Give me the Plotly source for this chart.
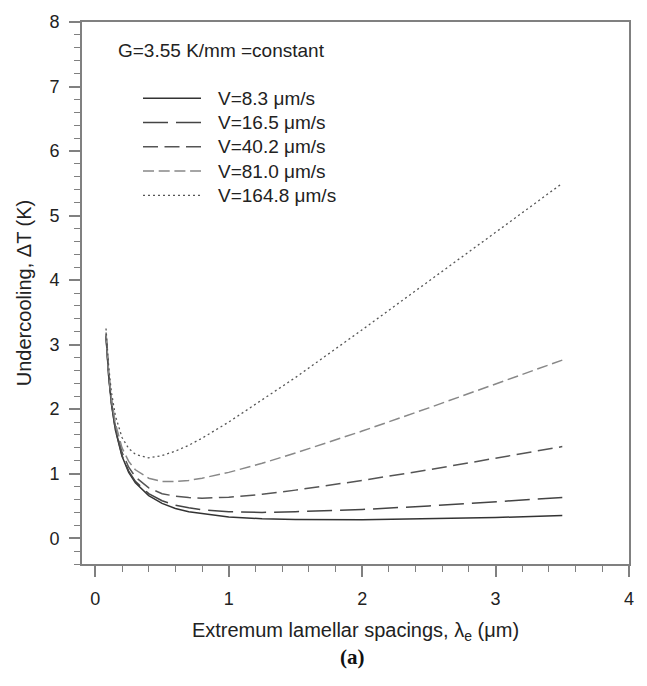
import plotly.graph_objects as go

spacing = [0.08, 0.1, 0.12, 0.15, 0.2, 0.25, 0.3, 0.4, 0.5, 0.6, 0.7, 0.8, 1.0, 1.25, 1.5, 2.0, 2.5, 3.0, 3.5]

dT_v8_3 = [3.13, 2.51, 2.09, 1.68, 1.27, 1.02, 0.86, 0.66, 0.54, 0.46, 0.41, 0.38, 0.33, 0.30, 0.29, 0.285, 0.30, 0.32, 0.35]
dT_v16_5 = [3.14, 2.52, 2.10, 1.69, 1.28, 1.04, 0.88, 0.69, 0.58, 0.51, 0.47, 0.44, 0.41, 0.40, 0.41, 0.445, 0.50, 0.56, 0.63]
dT_v40_2 = [3.16, 2.54, 2.13, 1.72, 1.33, 1.10, 0.95, 0.78, 0.69, 0.65, 0.63, 0.62, 0.635, 0.68, 0.745, 0.895, 1.06, 1.24, 1.42]
dT_v81_0 = [3.19, 2.58, 2.18, 1.78, 1.40, 1.19, 1.06, 0.93, 0.88, 0.88, 0.895, 0.93, 1.02, 1.16, 1.32, 1.66, 2.02, 2.39, 2.76]
dT_v164_8 = [3.25, 2.66, 2.27, 1.90, 1.56, 1.39, 1.30, 1.245, 1.28, 1.35, 1.44, 1.55, 1.80, 2.14, 2.49, 3.23, 3.98, 4.74, 5.50]

series_names = ["V=8.3 μm/s", "V=16.5 μm/s", "V=40.2 μm/s", "V=81.0 μm/s", "V=164.8 μm/s"]
series_values = [dT_v8_3, dT_v16_5, dT_v40_2, dT_v81_0, dT_v164_8]

x_ticks = [0, 1, 2, 3, 4]
y_ticks = [0, 1, 2, 3, 4, 5, 6, 7, 8]

styles = [
    dict(color="#333333", dash="solid", width=1.5),
    dict(color="#444444", dash="25px,8px", width=1.5),
    dict(color="#555555", dash="15px,6.5px", width=1.5),
    dict(color="#888888", dash="11px,4.7px", width=1.5),
    dict(color="#555555", dash="2px,3px", width=1.3),
]

W, H = 647, 686
ML, MR, MT, MB = 82, 18, 17, 122
PW, PH = W - ML - MR, H - MT - MB


def px(xp):
    return (xp - ML) / PW


def py(yp):
    return (H - MB - yp) / PH


fig = go.Figure()
for name, vals, st in zip(series_names, series_values, styles):
    fig.add_trace(go.Scatter(x=spacing, y=vals, mode="lines", name=name, line=st,
                             showlegend=False))

# hand-drawn legend block (layout decoration, like the original figure)
legend_rows = [94, 118.5, 143, 167.5, 192]
for name, st, yy in zip(series_names, styles, legend_rows):
    fig.add_shape(type="line", xref="paper", yref="paper",
                  x0=px(143), x1=px(201), y0=py(yy), y1=py(yy),
                  line=dict(color=st["color"], dash=st["dash"], width=st["width"]))
    fig.add_annotation(text=name, xref="paper", yref="paper", x=px(216), y=py(yy),
                       xanchor="left", yanchor="middle", showarrow=False,
                       font=dict(size=19, color="#222"))

axis_common = dict(
    showline=True, linecolor="#808080", linewidth=2, mirror=True,
    ticks="outside", ticklen=11, tickwidth=1.5, tickcolor="#808080",
    showgrid=False, zeroline=False,
    tickfont=dict(family="Liberation Sans, Arial", size=18, color="#222"),
    minor=dict(ticks="outside", ticklen=6, tickwidth=1.2, tickcolor="#808080", dtick=0.2, showgrid=False),
)

fig.update_layout(
    width=W, height=H,
    margin=dict(l=ML, r=MR, t=MT, b=MB),
    paper_bgcolor="white", plot_bgcolor="white",
    font=dict(family="Liberation Sans, Arial", color="#222"),
    xaxis=dict(range=[-0.1, 4], tickvals=x_ticks, ticklabelstandoff=6, **axis_common,
               title=dict(text="Extremum lamellar spacings, λ<sub>e</sub> (μm)",
                          font=dict(size=20), standoff=15)),
    yaxis=dict(range=[-0.4, 8], tickvals=y_ticks, ticklabelstandoff=6, **axis_common,
               title=dict(text="Undercooling, ΔT (K)", font=dict(size=20), standoff=12)),
    showlegend=False,
)

fig.add_annotation(text="G=3.55 K/mm =constant", xref="paper", yref="paper",
                   x=px(116), y=py(46), xanchor="left", yanchor="middle", showarrow=False,
                   font=dict(size=19, color="#222"))
fig.add_annotation(text="<b>(a)</b>", xref="paper", yref="paper",
                   x=px(352), y=py(658), xanchor="center", yanchor="middle", showarrow=False,
                   font=dict(family="Liberation Serif, Times New Roman", size=21, color="#111"))

fig.write_html("out.html")
